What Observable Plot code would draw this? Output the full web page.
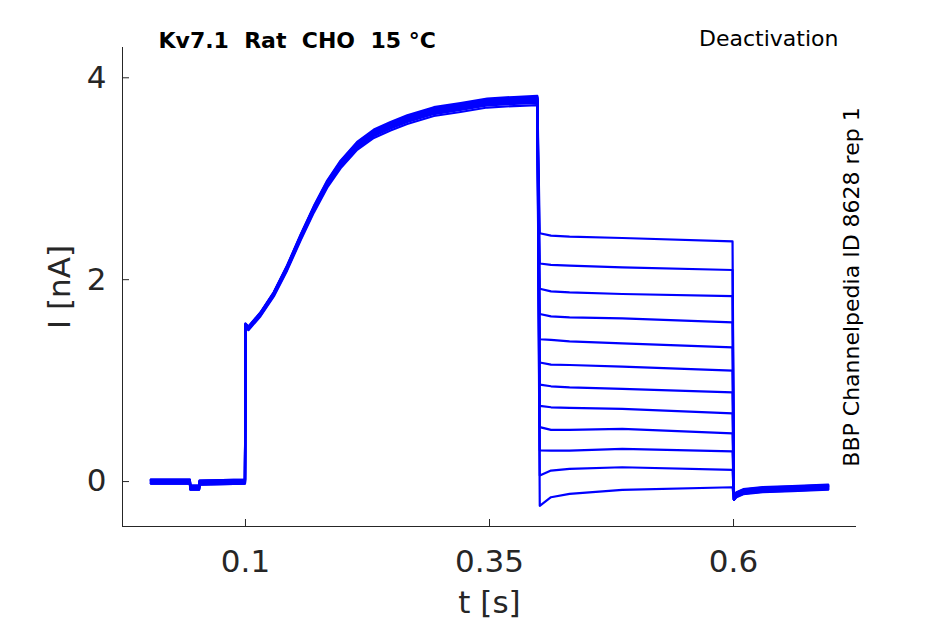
<!DOCTYPE html>
<html>
<head>
<meta charset="utf-8">
<script src="https://cdn.jsdelivr.net/npm/d3@7"></script>
<script src="https://cdn.jsdelivr.net/npm/@observablehq/plot@0.6"></script>
<style>
  html, body { margin: 0; padding: 0; background: #fff; }
  #chart { width: 945px; height: 624px; }
</style>
</head>
<body>
<div id="chart"></div>
<script>
// ---- Data ----
const xTicks = [0.1, 0.35, 0.6];
const xTickLabels = ["0.1", "0.35", "0.6"];
const yTicks = [0, 2, 4];
const yTickLabels = ["0", "2", "4"];

// holding period (same for all sweeps)
const tBase = [0.003, 0.043, 0.0435, 0.0525, 0.053, 0.0995];
const iBase = [0.0, 0.0, -0.06, -0.06, -0.01, 0.0];
// per-sweep level scatter of the holding current
const baseOffset = [0.02, -0.01, 0.01, -0.02, 0.0, 0.015, -0.015, 0.005, -0.005, 0.02, -0.02, 0.01];

// activation step 0.1 -> 0.4 s (mean sweep)
const tAct = [0.1, 0.103, 0.1154, 0.129, 0.1427, 0.1564, 0.17, 0.1837, 0.1974, 0.2144, 0.2315, 0.2486, 0.2657, 0.293, 0.3203, 0.3477, 0.375, 0.399];
const iAct = [1.55, 1.52, 1.66, 1.858, 2.12, 2.42, 2.70, 2.95, 3.145, 3.33, 3.45, 3.525, 3.59, 3.67, 3.71, 3.755, 3.77, 3.78];
// current reached at the end of activation, per sweep
const iPeak = [3.82, 3.80, 3.79, 3.78, 3.80, 3.77, 3.76, 3.79, 3.75, 3.78, 3.73, 3.81];

// deactivation step 0.4 -> 0.6 s, one value per sweep at each time
const tDeact = [0.4015, 0.413, 0.432, 0.486, 0.599];
const iDeactStart = [2.46, 2.16, 1.91, 1.66, 1.41, 1.18, 0.96, 0.75, 0.54, 0.31, 0.06, -0.24];
const iDeact413  = [2.436, 2.146, 1.884, 1.637, 1.403, 1.158, 0.944, 0.736, 0.512, 0.307, 0.109, -0.155];
const iDeact432  = [2.426, 2.139, 1.874, 1.627, 1.389, 1.155, 0.934, 0.730, 0.512, 0.307, 0.126, -0.122];
const iDeact486  = [2.413, 2.122, 1.858, 1.617, 1.370, 1.139, 0.918, 0.720, 0.522, 0.324, 0.142, -0.082];
const iDeactEnd  = [2.379, 2.096, 1.838, 1.577, 1.330, 1.099, 0.884, 0.676, 0.478, 0.300, 0.116, -0.056];

// tail after 0.6 s
const tTail = [0.6005, 0.603, 0.61, 0.63, 0.66, 0.697];
const iTail = [-0.18, -0.13, -0.10, -0.08, -0.07, -0.055];
// per-sweep level scatter of the tail current
const tailOffset = [0.02, -0.02, 0.01, -0.01, 0.015, -0.015, 0.0, 0.025, -0.025, 0.005, -0.005, 0.01];

// ---- Build table ----
const deactCols = [iDeactStart, iDeact413, iDeact432, iDeact486, iDeactEnd];
const rows = [];
iPeak.forEach((peak, k) => {
  tBase.forEach((t, j) => rows.push({sweep: k, t, i: iBase[j] + baseOffset[k]}));
  const g = peak / iAct[iAct.length - 1];
  tAct.forEach((t, j) => rows.push({sweep: k, t, i: iAct[j] * g}));
  tDeact.forEach((t, j) => rows.push({sweep: k, t, i: deactCols[j][k]}));
  tTail.forEach((t, j) => rows.push({sweep: k, t, i: iTail[j] + (j > 0 ? tailOffset[k] : 0)}));
});

const ink = "#262626";
const font = "DejaVu Sans, sans-serif";

const chart = Plot.plot({
  width: 945,
  height: 624,
  marginLeft: 122,
  marginRight: 89,
  marginTop: 47,
  marginBottom: 98,
  style: {fontFamily: font, background: "#fff", color: ink},
  x: {domain: [-0.026, 0.726]},
  y: {domain: [-0.445, 4.3]},
  marks: [
    Plot.line(rows, {x: "t", y: "i", z: "sweep", stroke: "#0000ff", strokeWidth: 2.2, strokeLinejoin: "round"}),
    Plot.ruleX([-0.026], {stroke: ink, strokeWidth: 1}),
    Plot.ruleY([-0.445], {stroke: ink, strokeWidth: 1}),
    Plot.axisX({ticks: xTicks, tickSize: 0, tickPadding: 23, fontSize: 31, tickFormat: (d, i) => xTickLabels[i], label: null, fill: ink}),
    Plot.axisX({ticks: xTicks, tickSize: -7, text: null, label: null, stroke: ink}),
    Plot.axisY({ticks: yTicks, tickSize: 0, tickPadding: 16, fontSize: 31, tickFormat: (d, i) => yTickLabels[i], label: null, fill: ink}),
    Plot.axisY({ticks: yTicks, tickSize: -7, text: null, label: null, stroke: ink}),
    Plot.text(["t [s]"], {frameAnchor: "bottom", dy: 77, text: d => d, fontSize: 31, fill: ink, lineAnchor: "middle"}),
    Plot.text(["I [nA]"], {frameAnchor: "left", dx: -62, text: d => d, fontSize: 31, fill: ink, rotate: -90, textAnchor: "middle", lineAnchor: "middle"}),
    Plot.text(["Kv7.1\u00a0\u00a0Rat\u00a0\u00a0CHO\u00a0\u00a015\u00a0°C"], {frameAnchor: "top-left", dx: 36, dy: 0, text: d => d, fontSize: 22, fontWeight: "bold", fill: "#000", textAnchor: "start", lineAnchor: "bottom"}),
    Plot.text(["Deactivation"], {frameAnchor: "top-right", dx: -18, dy: -2, text: d => d, fontSize: 22, fill: "#000", textAnchor: "end", lineAnchor: "bottom"}),
    Plot.text(["BBP Channelpedia ID 8628 rep 1"], {frameAnchor: "right", dx: -5, text: d => d, fontSize: 22, fill: "#000", rotate: -90, textAnchor: "middle", lineAnchor: "middle"})
  ]
});
document.getElementById("chart").appendChild(chart);
</script>
</body>
</html>
